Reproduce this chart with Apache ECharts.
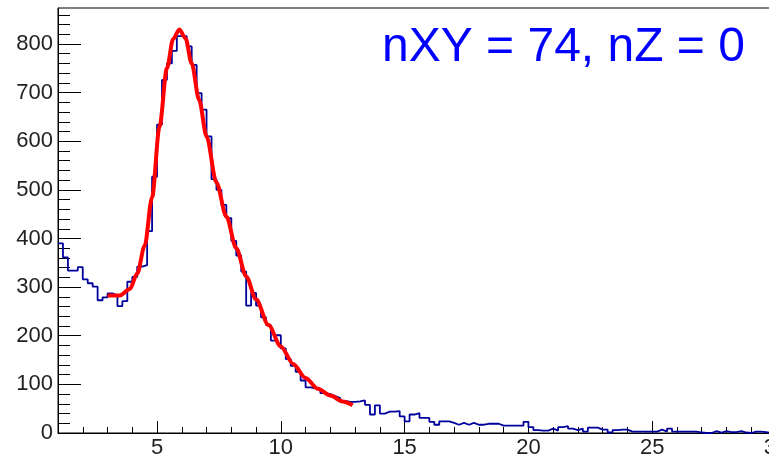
<!DOCTYPE html>
<html>
<head>
<meta charset="utf-8">
<script src="https://cdn.jsdelivr.net/npm/echarts@6/dist/echarts.min.js"></script>
<style>
html,body{margin:0;padding:0;background:#fff;}
#c{width:769px;height:457px;}
</style>
</head>
<body>
<div id="c"></div>
<script>
// Histogram definition: bins of width 0.2 starting at x = 1.0
const binStart = 1.0;
const binWidth = 0.2;
const xMin = 1;
const xMax = 30;
const yMin = 0;
const yMax = 874;

// Bin contents (145 bins, 1.0 .. 30.0)
const counts = [
  390, 361, 334, 334, 341, 316, 308, 301, 273, 279,
  287, 283, 261, 271, 311, 321, 342, 345, 415, 527,
  634, 726, 760, 786, 816, 816, 795, 757, 699, 665,
  610, 522, 500, 469, 442, 395, 365, 332, 262, 288,
  262, 238, 222, 190, 201, 174, 152, 138, 126, 108,
  94, 92, 88, 82, 80, 76, 72, 66, 64, 64,
  65, 67, 58, 38, 57, 40, 44, 44, 45, 34,
  24, 38, 41, 31, 31, 23, 17, 24, 24, 21,
  17, 21, 17, 21, 17, 17, 19, 19, 19, 15,
  15, 15, 15, 15, 23, 12, 6, 5, 5, 9,
  5, 12, 14, 9, 6, 9, 3, 11, 11, 7,
  7, 1, 6, 7, 7, 3, 3, 3, 3, 3,
  3, 7, 3, 9, 3, 3, 3, 3, 3, 1,
  0, 0, 4, 1, 4, 2, 2, 4, 1, 0,
  3, 3, 2, 0, 3
];

// Fit curve (red) points
const fitX = [3.0, 3.5, 3.9, 4.2, 4.5, 4.8, 5.1, 5.4, 5.65, 5.9, 6.15, 6.4, 6.7, 7.0, 7.4, 7.8, 8.2, 8.6, 9.0, 9.5, 10.0, 10.5, 11.0, 11.5, 12.0, 12.5, 12.9];
const fitY = [283, 283, 296, 328, 385, 485, 630, 750, 810, 830, 812, 760, 685, 610, 515, 445, 380, 322, 275, 222, 178, 142, 113, 91, 77, 65, 57];

// Tick labels
const xTickLabels = [5, 10, 15, 20, 25, 30];
const xMinorTicks = [2, 3, 4, 6, 7, 8, 9, 11, 12, 13, 14, 16, 17, 18, 19, 21, 22, 23, 24, 26, 27, 28, 29];
const yTickLabels = [0, 100, 200, 300, 400, 500, 600, 700, 800];
const yMinorTicks = [20, 40, 60, 80, 120, 140, 160, 180, 220, 240, 260, 280, 320, 340, 360, 380, 420, 440, 460, 480, 520, 540, 560, 580, 620, 640, 660, 680, 720, 740, 760, 780, 820, 840, 860];

const titleText = 'nXY = 74, nZ = 0';

const histData = counts.map((c, i) => [binStart + i * binWidth, c]);
histData.push([xMax, counts[counts.length - 1]]);
const fitData = fitX.map((x, i) => [x, fitY[i]]);

const FONT = 'Liberation Sans, Arial, Helvetica, sans-serif';
const chart = echarts.init(document.getElementById('c'), null, {renderer: 'canvas'});
chart.setOption({
  animation: false,
  backgroundColor: '#ffffff',
  title: {
    text: titleText,
    left: 377,
    top: 19,
    textStyle: {color: '#0000ff', fontSize: 48, fontWeight: 'normal', fontFamily: FONT}
  },
  grid: {
    left: 58, top: 8, width: 718, height: 425,
    outerBoundsMode: 'none', containLabel: false,
    show: true, borderColor: '#000', borderWidth: 1, backgroundColor: 'transparent'
  },
  xAxis: [
    {
      type: 'value', min: xMin, max: xMax, position: 'bottom',
      axisLine: {show: true, onZero: false, lineStyle: {color: '#000', width: 1}},
      axisTick: {show: true, inside: true, length: 12, customValues: xTickLabels, lineStyle: {color: '#000', width: 1}},
      axisLabel: {customValues: xTickLabels, fontSize: 22, color: '#222', margin: 4, fontFamily: FONT},
      splitLine: {show: false}
    },
    {
      type: 'value', min: xMin, max: xMax, position: 'bottom',
      axisLine: {show: false, onZero: false},
      axisTick: {show: true, inside: true, length: 6, customValues: xMinorTicks, lineStyle: {color: '#000', width: 1}},
      axisLabel: {show: false},
      splitLine: {show: false}
    }
  ],
  yAxis: [
    {
      type: 'value', min: yMin, max: yMax, position: 'left',
      axisLine: {show: true, onZero: false, lineStyle: {color: '#000', width: 1}},
      axisTick: {show: true, inside: true, length: 23, customValues: yTickLabels, lineStyle: {color: '#000', width: 1}},
      axisLabel: {customValues: yTickLabels, fontSize: 22, color: '#222', margin: 5, fontFamily: FONT},
      splitLine: {show: false}
    },
    {
      type: 'value', min: yMin, max: yMax, position: 'left', offset: 0,
      axisLine: {show: false, onZero: false},
      axisTick: {show: true, inside: true, length: 12, customValues: yMinorTicks, lineStyle: {color: '#000', width: 1}},
      axisLabel: {show: false},
      splitLine: {show: false}
    }
  ],
  series: [
    {
      type: 'line', xAxisIndex: 0, yAxisIndex: 0,
      data: histData, step: 'end', symbol: 'none',
      lineStyle: {color: '#00009c', width: 1.8},
      z: 2
    },
    {
      type: 'line', xAxisIndex: 0, yAxisIndex: 0,
      data: fitData, smooth: 0.3, smoothMonotone: 'x', symbol: 'none',
      lineStyle: {color: '#ff0000', width: 4},
      z: 3
    }
  ]
});
</script>
</body>
</html>
